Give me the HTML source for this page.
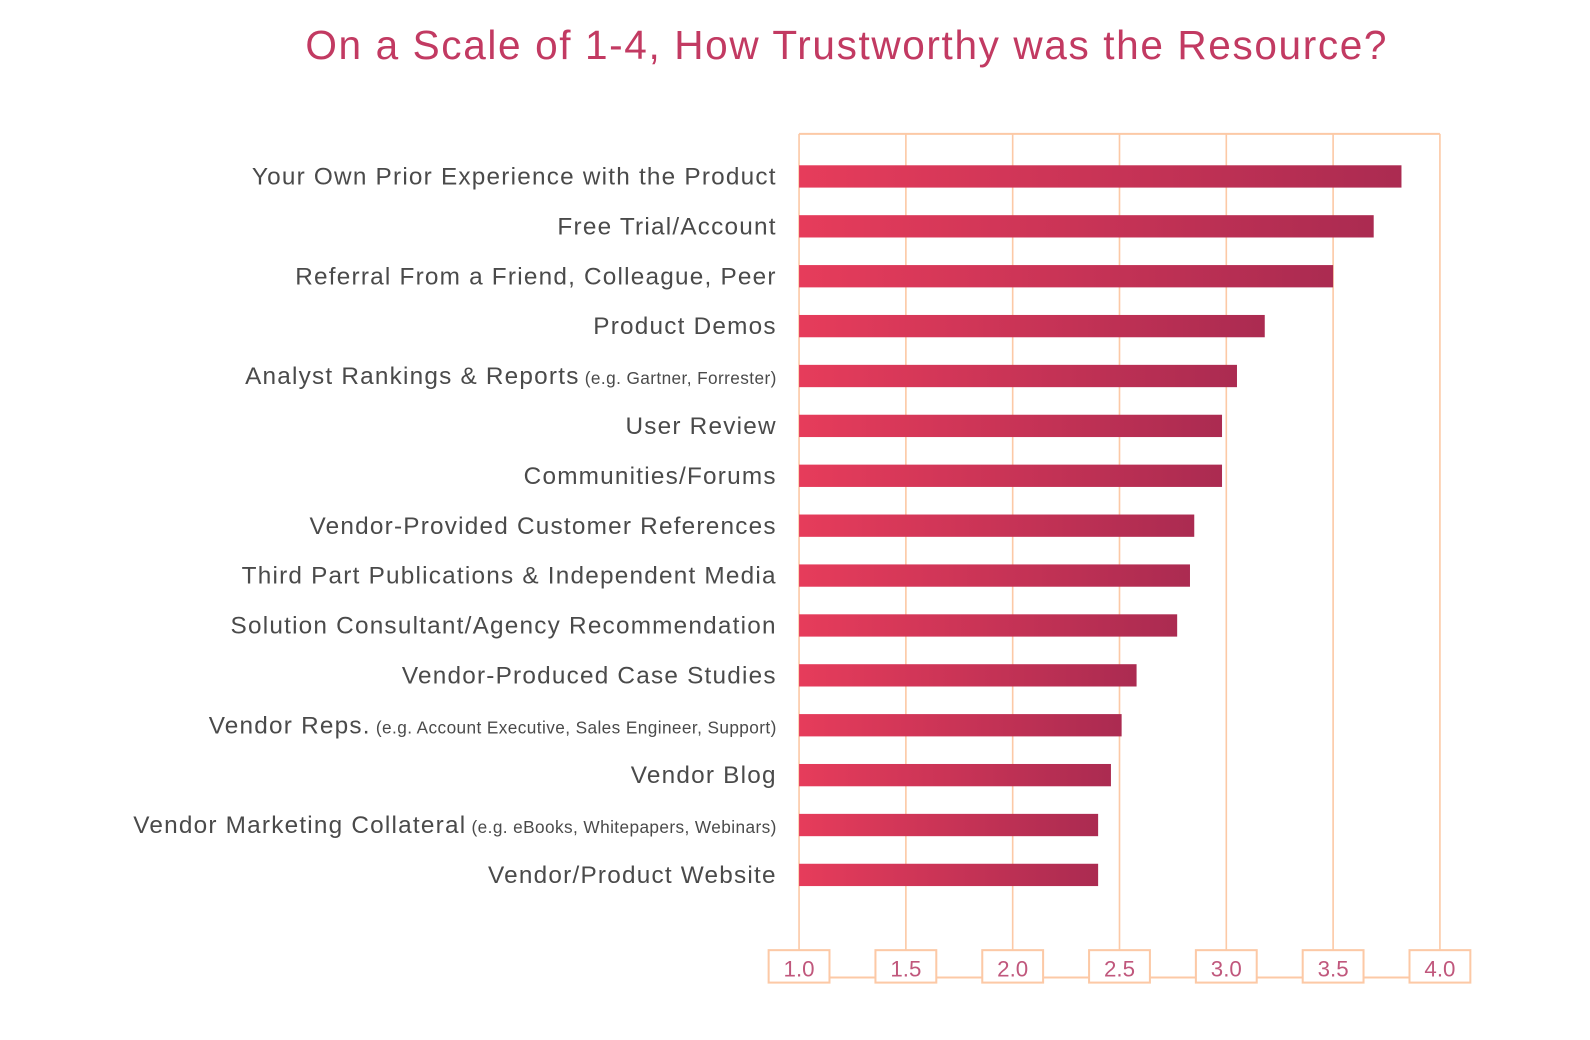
<!DOCTYPE html>
<html><head><meta charset="utf-8"><style>
html,body{margin:0;padding:0;background:#fff;}
svg{display:block;font-family:"Liberation Sans",sans-serif;}
</style></head><body>
<svg id="chart" width="1590" height="1040" viewBox="0 0 1568 1025.6" preserveAspectRatio="none" xmlns="http://www.w3.org/2000/svg">
<defs><linearGradient id="bg" x1="0" x2="1" y1="0" y2="0"><stop offset="0" stop-color="#e63c5b"/><stop offset="1" stop-color="#ab2b51"/></linearGradient></defs>
<text x="835" y="58" text-anchor="middle" font-size="40" letter-spacing="1.6" fill="#c23a62">On a Scale of 1-4, How Trustworthy was the Resource?</text>
<g id="grid"></g><g id="bars"></g><g id="labels"></g><g id="ticks"></g>
</svg>
<script>
const categories=["Your Own Prior Experience with the Product","Free Trial/Account","Referral From a Friend, Colleague, Peer","Product Demos","Analyst Rankings & Reports","User Review","Communities/Forums","Vendor-Provided Customer References","Third Part Publications & Independent Media","Solution Consultant/Agency Recommendation","Vendor-Produced Case Studies","Vendor Reps.","Vendor Blog","Vendor Marketing Collateral","Vendor/Product Website"];
const notes=["","","","","(e.g. Gartner, Forrester)","","","","","","","(e.g. Account Executive, Sales Engineer, Support)","","(e.g. eBooks, Whitepapers, Webinars)",""];
const values=[3.82,3.69,3.50,3.18,3.05,2.98,2.98,2.85,2.83,2.77,2.58,2.51,2.46,2.40,2.40];
const ticks=[1.0,1.5,2.0,2.5,3.0,3.5,4.0];
const NS="http://www.w3.org/2000/svg";
const x0=788,x1=1420,yTop=132,yBot=940,row0=174,rowStep=49.2,barH=22;
const xs=v=>x0+(v-1)/3*(x1-x0);
const ys=i=>row0+i*rowStep;
function mk(tag,attrs,parent,txt){const e=document.createElementNS(NS,tag);for(const k in attrs)e.setAttribute(k,attrs[k]);if(txt!==undefined)e.textContent=txt;document.getElementById(parent).appendChild(e);return e;}
const lc="#fcc9a6";
let e=mk("line",{x1:x0,x2:x1,y1:yTop,y2:yTop,stroke:lc,"stroke-width":2},"grid");


e=mk("line",{x1:xs(ticks[0]),x2:xs(ticks[ticks.length-1]),y1:964,y2:964,stroke:lc,"stroke-width":2},"ticks");


ticks.forEach(t=>{
  const l=mk("line",{x1:xs(t),x2:xs(t),y1:yTop,y2:937,stroke:lc,"stroke-width":1.6},"grid");
  
  
  const r=mk("rect",{x:xs(t)-30,y:937,width:60,height:32,fill:"#fff",stroke:lc,"stroke-width":2},"ticks");
  
  
  const tx=mk("text",{x:xs(t),y:963,"text-anchor":"middle","font-size":22,fill:"#c0577c"},"ticks",t.toFixed(1));
  
  
});
values.forEach((v,i)=>{
  const b=mk("rect",{x:xs(1),y:ys(i)-barH/2,width:xs(v)-xs(1),height:barH,fill:"url(#bg)"},"bars");
  
  
  const t=mk("text",{x:766,y:ys(i)+8,"text-anchor":"end","font-size":24,"letter-spacing":1.2,fill:"#4a4a4a"},"labels");
  
  
  const s1=document.createElementNS(NS,"tspan");s1.textContent=categories[i];t.appendChild(s1);
  if(notes[i]){const s2=document.createElementNS(NS,"tspan");s2.setAttribute("font-size","17");s2.setAttribute("letter-spacing","0.4");s2.textContent=" "+notes[i];t.appendChild(s2);}
});
</script>
</body></html>
